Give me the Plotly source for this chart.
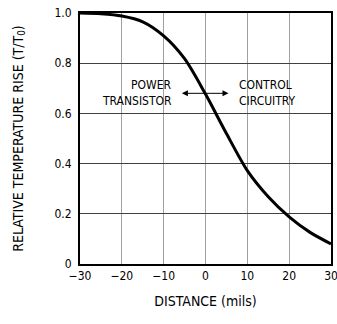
import plotly.graph_objects as go

distance = [-30, -25, -20, -15, -10, -5, 0, 5, 10, 15, 20, 25, 30]
temp_rise = [1.0, 0.997, 0.988, 0.965, 0.909, 0.818, 0.677, 0.52, 0.372, 0.268, 0.188, 0.126, 0.08]
x_ticks = [-30, -20, -10, 0, 10, 20, 30]
x_labels = ["\u221230", "\u221220", "\u221210", "0", "10", "20", "30"]
y_ticks = [0, 0.2, 0.4, 0.6, 0.8, 1.0]
y_labels = ["0", "0.2", "0.4", "0.6", "0.8", "1.0"]

FONT = "DejaVu Sans Condensed, Liberation Sans Narrow, Liberation Sans, Arial"

fig = go.Figure()
fig.add_trace(go.Scatter(x=distance, y=temp_rise, mode="lines",
                         line=dict(color="black", width=3, shape="spline", smoothing=0.8),
                         showlegend=False, hoverinfo="skip"))

fig.update_layout(
    width=337, height=324,
    margin=dict(l=80, r=6, t=13, b=60, autoexpand=False),
    paper_bgcolor="white", plot_bgcolor="white",
    font=dict(family=FONT, size=12, color="black"),
    xaxis=dict(range=[-30, 30], tickvals=x_ticks, ticktext=x_labels, ticks="", showgrid=True,
               gridcolor="#a0a0a0", gridwidth=1, zeroline=False, automargin=False,
               ticklabeloverflow="allow",
               showline=True, linecolor="black", linewidth=2, mirror=True,
               title=dict(text="DISTANCE (mils)", standoff=14),
               tickfont=dict(size=12)),
    yaxis=dict(range=[0, 1.0], tickvals=y_ticks, ticktext=y_labels, ticks="",
               showgrid=True, gridcolor="#404040", gridwidth=1, zeroline=False, automargin=False,
               ticklabeloverflow="allow",
               showline=True, linecolor="black", linewidth=2, mirror=True,
               ticklabelstandoff=4,
               title=dict(text="RELATIVE TEMPERATURE RISE (T/T<sub>0</sub>)", standoff=28),
               tickfont=dict(size=12)),
    annotations=[
        dict(x=-7.5, y=0.715, xref="x", yref="y", text="POWER", showarrow=False,
             xanchor="right", yanchor="middle", font=dict(size=12)),
        dict(x=-7.5, y=0.648, xref="x", yref="y", text="TRANSISTOR", showarrow=False,
             xanchor="right", yanchor="middle", font=dict(size=12)),
        dict(x=7.5, y=0.715, xref="x", yref="y", text="CONTROL", showarrow=False,
             xanchor="left", yanchor="middle", font=dict(size=12)),
        dict(x=7.5, y=0.648, xref="x", yref="y", text="CIRCUITRY", showarrow=False,
             xanchor="left", yanchor="middle", font=dict(size=12)),
        dict(x=5.5, y=0.68, ax=-6, ay=0.68, xref="x", yref="y", axref="x", ayref="y",
             text="", showarrow=True, arrowhead=2, arrowside="end+start",
             arrowsize=1.2, arrowwidth=1, arrowcolor="black"),
    ],
)

fig.write_html("out.html")
